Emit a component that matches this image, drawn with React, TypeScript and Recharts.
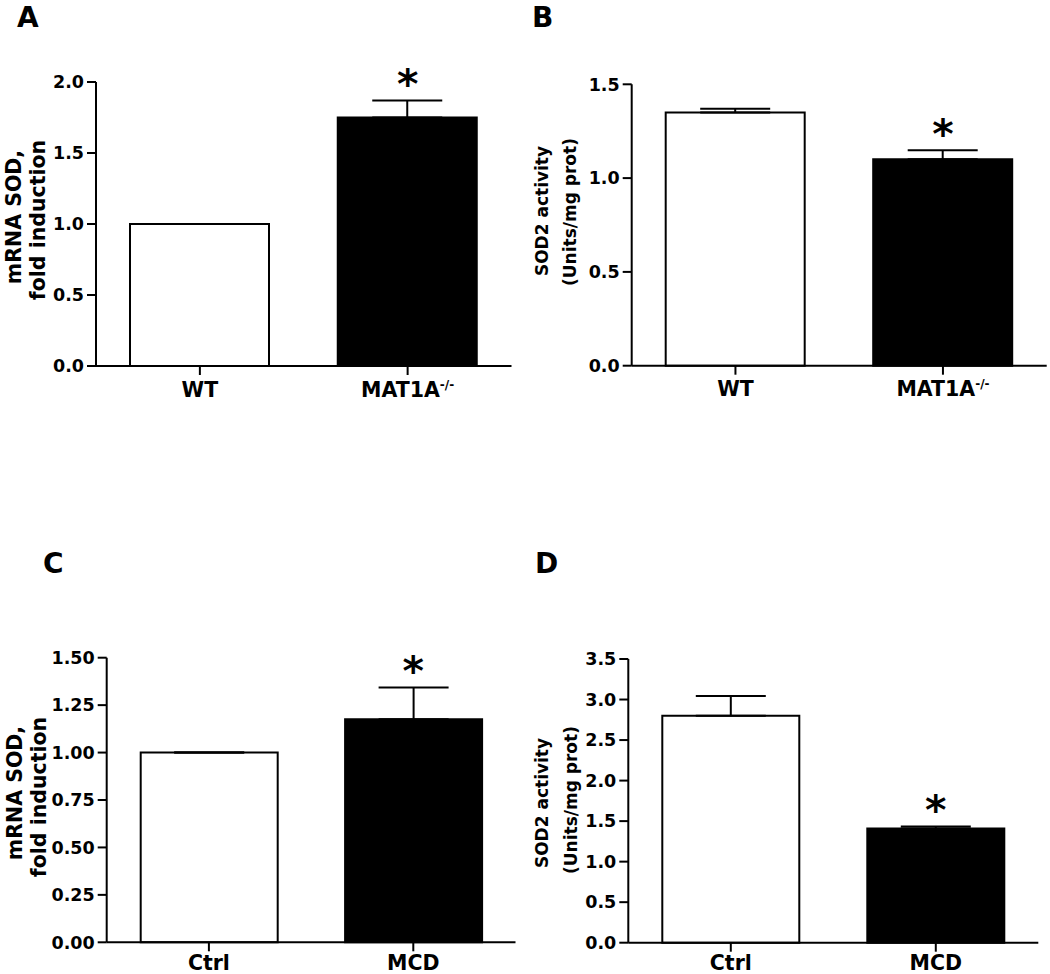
import React from 'react';
import { ComposedChart, Bar, XAxis, YAxis, ErrorBar, Cell, Line } from 'recharts';

// ---------- data ----------
const catA = ['WT', 'MAT1A-/-'];
const valA = [1.0, 1.75];
const errA = [0, 0.12];
const starA = [false, true];
const ticksA = [0, 0.5, 1.0, 1.5, 2.0];

const catB = ['WT', 'MAT1A-/-'];
const valB = [1.35, 1.1];
const errB = [0.02, 0.048];
const starB = [false, true];
const ticksB = [0, 0.5, 1.0, 1.5];

const catC = ['Ctrl', 'MCD'];
const valC = [1.0, 1.175];
const errC = [0, 0.168];
const starC = [false, true];
const ticksC = [0, 0.25, 0.5, 0.75, 1.0, 1.25, 1.5];

const catD = ['Ctrl', 'MCD'];
const valD = [2.8, 1.41];
const errD = [0.245, 0.024];
const starD = [false, true];
const ticksD = [0, 0.5, 1.0, 1.5, 2.0, 2.5, 3.0, 3.5];

const fills = ['#ffffff', '#000000'];

const titleA = ['mRNA SOD,', 'fold induction'];
const titleB = ['SOD2 activity', '(Units/mg prot)'];
const titleC = ['mRNA SOD,', 'fold induction'];
const titleD = ['SOD2 activity', '(Units/mg prot)'];

const FONT = 'DejaVu Sans';

// ---------- components ----------
function CatTick(props: any) {
  const { x, y, payload } = props;
  const label = String(payload.value);
  const i = label.indexOf('-/-');
  const base = i >= 0 ? label.slice(0, i) : label;
  const sup = i >= 0 ? label.slice(i) : '';
  return (
    <text x={x} y={y} dy="0.71em" textAnchor="middle" fill="#000" fontSize={20.5} fontWeight="bold" fontFamily={FONT}>
      {base}
      {sup ? (
        <tspan fontSize={12} dy={-8}>
          {sup}
        </tspan>
      ) : null}
    </text>
  );
}

const StarDot = (props: any) => {
  const { cx, cy, index, payload } = props;
  if (cy == null || cx == null || payload == null || payload.star == null) return <g key={`s${index}`} />;
  return (
    <text key={`s${index}`} x={cx} y={cy - 2} textAnchor="middle" fill="#000" fontSize={41} fontWeight="bold" fontFamily={FONT}>
      *
    </text>
  );
};

type Box = { L: number; T: number; W: number; H: number; axisX: number; topY: number; bottomY: number; rightX: number };

function Panel(props: {
  cats: string[];
  vals: number[];
  errs: number[];
  stars: boolean[];
  ticks: number[];
  decimals: number;
  box: Box;
  barSize: number;
  labelGap: number;
}) {
  const { cats, vals, errs, stars, ticks, decimals, box, barSize, labelGap } = props;
  const data = cats.map((c, i) => ({
    name: c,
    value: vals[i],
    err: [0, errs[i]],
    star: stars[i] ? vals[i] + errs[i] : null,
  }));
  const { L, T, W, H, axisX, topY, bottomY, rightX } = box;
  const margin = { top: topY - T, right: L + W - rightX, bottom: 0, left: 0 };
  return (
    <div style={{ position: 'absolute', left: L, top: T, width: W, height: H }}>
      <ComposedChart width={W} height={H} data={data} margin={margin}>
        <XAxis
          dataKey="name"
          height={T + H - bottomY}
          tickSize={9}
          tickMargin={labelGap}
          axisLine={{ stroke: '#000', strokeWidth: 2 }}
          tickLine={{ stroke: '#000', strokeWidth: 2 }}
          tick={<CatTick />}
          interval={0}
        />
        <YAxis
          type="number"
          domain={[ticks[0], ticks[ticks.length - 1]]}
          ticks={ticks}
          width={axisX - L}
          tickSize={9}
          tickMargin={3}
          axisLine={{ stroke: '#000', strokeWidth: 2 }}
          tickLine={{ stroke: '#000', strokeWidth: 2 }}
          tick={{ fill: '#000', fontSize: 17.5, fontWeight: 'bold', fontFamily: FONT }}
          tickFormatter={(v: number) => v.toFixed(decimals)}
          interval={0}
        />
        <Bar dataKey="value" barSize={barSize} stroke="#000" strokeWidth={2} isAnimationActive={false}>
          {data.map((d, i) => (
            <Cell key={i} fill={fills[i]} />
          ))}
          <ErrorBar dataKey="err" width={35} stroke="#000" strokeWidth={2} direction="y" />
        </Bar>
        <Line dataKey="star" stroke="none" isAnimationActive={false} dot={StarDot} activeDot={false} legendType="none" />
      </ComposedChart>
    </div>
  );
}

function Title({ lines, x1, x2, y1, y2, size }: { lines: string[]; x1: number; x2: number; y1: number; y2: number; size: number }) {
  return (
    <g fill="#000" fontWeight="bold" fontFamily={FONT} fontSize={size} textAnchor="middle">
      <text x={x1} y={y1} transform={`rotate(-90 ${x1} ${y1})`}>
        {lines[0]}
      </text>
      <text x={x2} y={y2} transform={`rotate(-90 ${x2} ${y2})`}>
        {lines[1]}
      </text>
    </g>
  );
}

export default function App() {
  return (
    <div style={{ position: 'absolute', left: 0, top: 0, width: 1050, height: 974, background: '#fff', overflow: 'hidden' }}>
      <Panel
        cats={catA}
        vals={valA}
        errs={errA}
        stars={starA}
        ticks={ticksA}
        decimals={1}
        barSize={139}
        labelGap={7}
        box={{ L: 0, T: 0, W: 520, H: 420, axisX: 96, topY: 82, bottomY: 366, rightX: 511.5 }}
      />
      <Panel
        cats={catB}
        vals={valB}
        errs={errB}
        stars={starB}
        ticks={ticksB}
        decimals={1}
        barSize={139}
        labelGap={7}
        box={{ L: 520, T: 0, W: 530, H: 420, axisX: 631.7, topY: 84.3, bottomY: 365.7, rightX: 1046.7 }}
      />
      <Panel
        cats={catC}
        vals={valC}
        errs={errC}
        stars={starC}
        ticks={ticksC}
        decimals={2}
        barSize={137}
        labelGap={4}
        box={{ L: 0, T: 540, W: 520, H: 434, axisX: 106.7, topY: 657.7, bottomY: 942.3, rightX: 515.5 }}
      />
      <Panel
        cats={catD}
        vals={valD}
        errs={errD}
        stars={starD}
        ticks={ticksD}
        decimals={1}
        barSize={137}
        labelGap={4}
        box={{ L: 520, T: 540, W: 530, H: 434, axisX: 628.3, topY: 659, bottomY: 942.7, rightX: 1038.3 }}
      />
      <svg width={1050} height={974} style={{ position: 'absolute', left: 0, top: 0, pointerEvents: 'none' }}>
        <g fill="#000" fontWeight="bold" fontFamily={FONT} fontSize={28}>
          <text x={17} y={27}>A</text>
          <text x={532} y={27}>B</text>
          <text x={43} y={573}>C</text>
          <text x={535} y={573}>D</text>
        </g>
        <Title lines={titleA} x1={21} y1={217} x2={45} y2={220} size={20.5} />
        <Title lines={titleB} x1={548} y1={211} x2={576} y2={212} size={17} />
        <Title lines={titleC} x1={22} y1={793} x2={46} y2={797} size={20.5} />
        <Title lines={titleD} x1={548} y1={803} x2={577} y2={800} size={17} />
      </svg>
    </div>
  );
}
